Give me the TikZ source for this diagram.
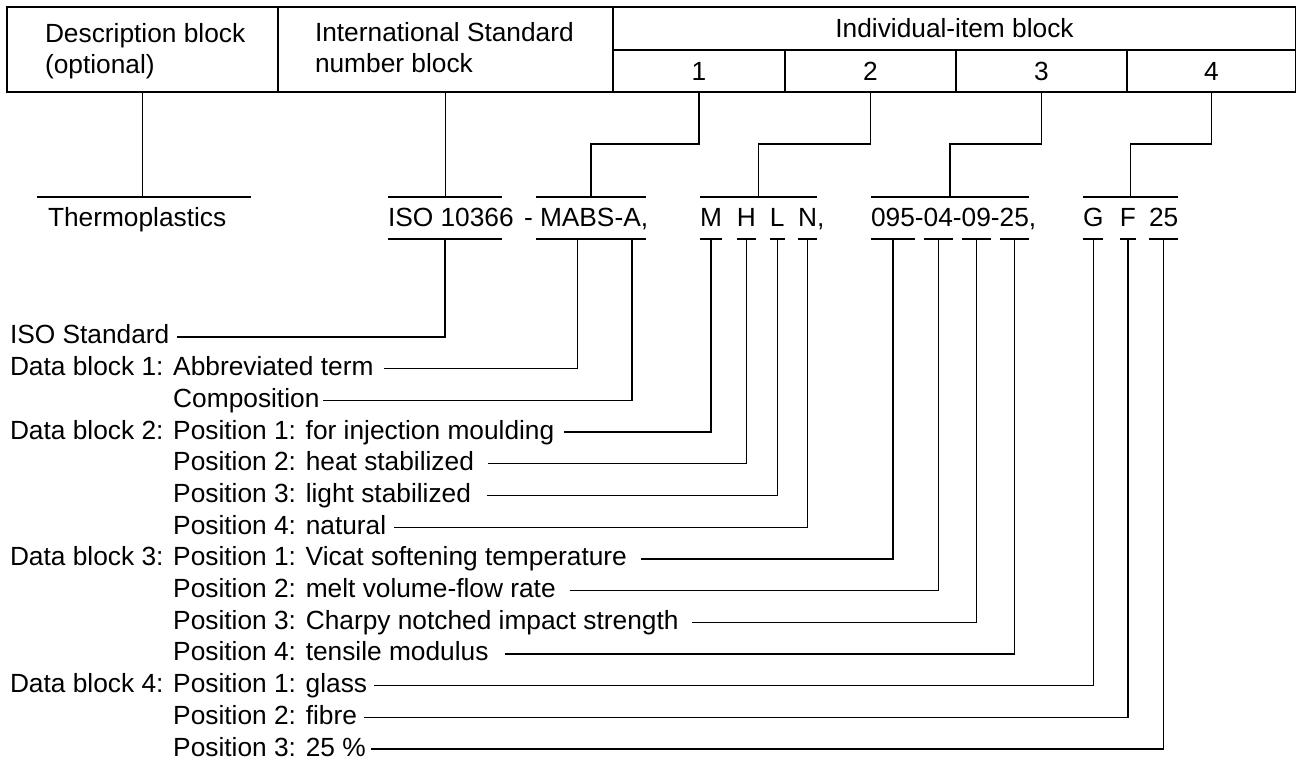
\documentclass[tikz,border=0pt]{standalone}
\usepackage{fontspec}
\setmainfont{Liberation Sans}
\usetikzlibrary{positioning}

\begin{document}
\begin{tikzpicture}[x=1pt,y=-1pt,line width=1.3pt]
\tikzset{every node/.style={inner sep=0pt,outer sep=0pt}}
\tikzset{cell/.style={draw,minimum height=#1}}
\tikzset{tok/.style={anchor=base west,text height=19pt,text depth=0pt}}
\tikzset{lbl/.style={anchor=mid west}}

\fontsize{26.3}{31.5}\selectfont

\useasboundingbox (0,0) rectangle (1296,760);

% header table
\node[cell=85pt,minimum width=271pt] (desc) at (142.5,49.5) {};
\node[cell=85pt,minimum width=335pt] (isn) at (445.5,49.5) {};
\node[cell=43pt,minimum width=683pt] (indiv) at (954.5,28.5) {Individual-item block};
\foreach \n/\l/\r in {1/613/785,2/785/956,3/956/1127,4/1127/1296}
  \node[cell=42pt,minimum width={(\r-\l)*1pt}] (it\n) at ({(\l+\r)/2},71) {\n};
\node[anchor=north west,align=left] (desctxt) at (45,23) {Description block\\(optional)};
\node[anchor=north west,align=left] (isntxt) at (315,22) {International Standard\\number block};

% designation
\node[tok] (thermo) at (48,226) {Thermoplastics};
\node[tok] (iso) at (388,226) {ISO 10366};
\node[tok] (dash) at (524,226) {-};
\node[tok] (mabs) at (540,226) {MABS};
\node[tok,base right=0pt of mabs] (mdash) {-};
\node[tok,base right=0pt of mdash] (comp) {A};
\node[tok,base right=0pt of comp] (c1) {,};
\node[tok] (pm) at (700,226) {M};
\node[tok,base right=15pt of pm] (ph) {H};
\node[tok,base right=14pt of ph] (pl) {L};
\node[tok,base right=13.5pt of pl] (pn) {N};
\node[tok,base right=0pt of pn] (c2) {,};
\node[tok] (v1) at (871,226) {095};
\node[tok,base right=0pt of v1] (d1) {-};
\node[tok,base right=0pt of d1] (v2) {04};
\node[tok,base right=0pt of v2] (d2) {-};
\node[tok,base right=0pt of d2] (v3) {09};
\node[tok,base right=0pt of v3] (d3) {-};
\node[tok,base right=0pt of d3] (v4) {25};
\node[tok,base right=0pt of v4] (c3) {,};
\node[tok] (g) at (1083,226) {G};
\node[tok,base right=16.5pt of g] (f) {F};
\node[tok,base right=13pt of f] (n25) {25};

% bars above
\draw ([xshift=-11pt,yshift=10pt]thermo.north west) -- coordinate (b-thermo) +(214,0);
\draw ([yshift=10pt]iso.north west) -- coordinate (b-iso) +(114,0);
\draw ([xshift=-4pt,yshift=10pt]mabs.north west) -- coordinate (b1) +(110,0);
\draw ([yshift=10pt]pm.north west) -- coordinate (b2) ([yshift=10pt]pn.north east);
\draw ([yshift=10pt]v1.north west) -- coordinate (b3) ([yshift=10pt]v4.north east);
\draw ([yshift=10pt]g.north west) -- coordinate (b4) ([yshift=10pt]n25.north east);

% bars below
\draw ([yshift=-13pt]iso.south west) -- coordinate (u-iso) +(114,0);
\draw ([xshift=-4pt,yshift=-13pt]mabs.south west) -- +(110,0);
\coordinate (u-mabs) at ([yshift=-13pt]mabs.south);
\coordinate (u-comp) at ([yshift=-13pt]comp.south);
\foreach \n in {pm,ph,pl,pn,v1,v2,v3,v4,g,f,n25}
  \draw ([yshift=-13pt]\n.south west) -- coordinate (u-\n) ([yshift=-13pt]\n.south east);

% header to designation
\draw (desc.south) -- (desc.south |- b-thermo);
\draw (isn.south) -- (isn.south |- b-iso);
\foreach \n in {1,2,3,4}
  \draw (it\n.south) -- ++(0,52) -| (b\n);

% explanations
\foreach \i/\txt/\g/\stem in {
  0/ISO Standard/8/u-iso,
  1/Data block 1: Abbreviated term/10/u-mabs,
  2/\phantom{Data block 1: }Composition/4/u-comp,
  3/Data block 2: Position 1: for injection moulding/10/u-pm,
  4/\phantom{Data block 2: }Position 2: heat stabilized/14/u-ph,
  5/\phantom{Data block 2: }Position 3: light stabilized/16/u-pl,
  6/\phantom{Data block 2: }Position 4: natural/8/u-pn,
  7/Data block 3: Position 1: Vicat softening temperature/14/u-v1,
  8/\phantom{Data block 3: }Position 2: melt volume-flow rate/14/u-v2,
  9/\phantom{Data block 3: }Position 3: Charpy notched impact strength/13/u-v3,
  10/\phantom{Data block 3: }Position 4: tensile modulus/16/u-v4,
  11/Data block 4: Position 1: glass/7/u-g,
  12/\phantom{Data block 4: }Position 2: fibre/7/u-f,
  13/\phantom{Data block 4: }Position 3: 25 \%/5/u-n25}
{
  \node[lbl] (l\i) at (10,{337+31.7*\i}) {\txt};
  \draw ([xshift=\g pt]l\i.mid east) -| (\stem);
}

\end{tikzpicture}
\end{document}
